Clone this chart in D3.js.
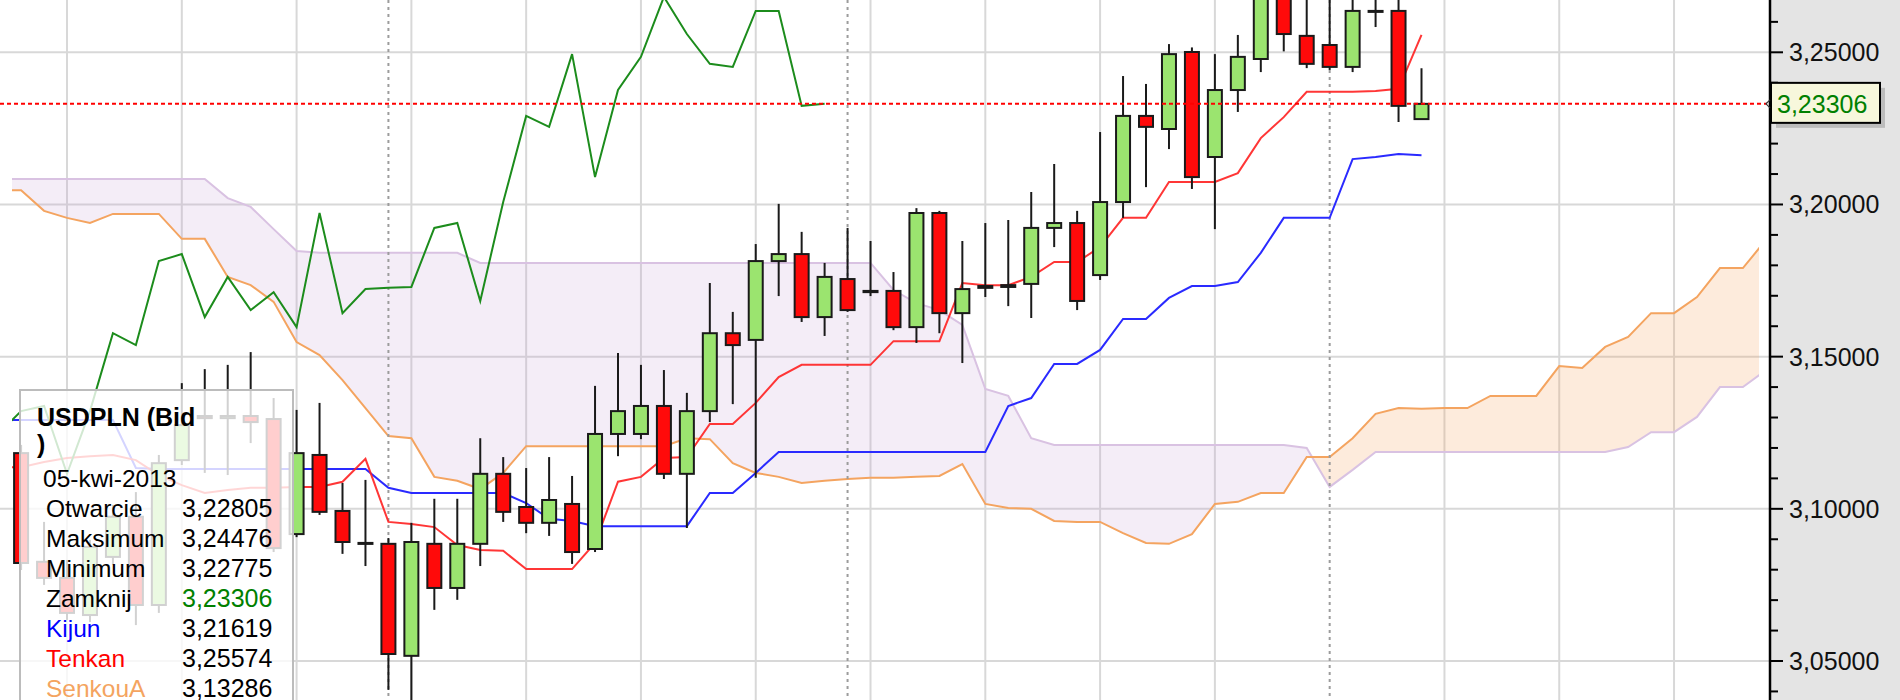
<!DOCTYPE html>
<html><head><meta charset="utf-8">
<script src="https://cdn.jsdelivr.net/npm/d3@7"></script>
<style>
body{margin:0;background:#fff;overflow:hidden;}
svg{display:block;font-family:"Liberation Sans",Arial,sans-serif;}
</style>
</head><body>
<svg id="c" width="1900" height="700"></svg>
<script>
// ---- data (index 0 = first visible candle, index 61 = 05-kwi-2013) ----
const openP = [3.1183,3.0826,3.0773,3.0651,3.0842,3.0974,3.0684,3.1160,3.1305,3.1298,
 3.1305,3.1295,3.0917,3.1177,3.0993,3.0888,3.0885,3.0517,3.0885,3.0740,
 3.0885,3.1115,3.1006,3.0954,3.1016,3.0868,3.1246,3.1246,3.1338,3.1115,
 3.1321,3.1577,3.1555,3.1814,3.1837,3.1630,3.1755,3.1716,3.1716,3.1597,
 3.1972,3.1643,3.1732,3.1735,3.1739,3.1923,3.1939,3.1768,3.2008,3.2291,
 3.2248,3.2501,3.2156,3.2376,3.2478,3.2688,3.2554,3.2524,3.2452,3.2636,
 3.2636,3.22805];
const highP = [3.1210,3.0957,3.0832,3.0898,3.1013,3.1055,3.1177,3.1413,3.1459,3.1473,
 3.1515,3.1364,3.1325,3.1348,3.1085,3.1095,3.0904,3.0954,3.1033,3.1033,
 3.1232,3.1170,3.1134,3.1170,3.1108,3.1404,3.1512,3.1473,3.1456,3.1381,
 3.1742,3.1647,3.1870,3.2002,3.1910,3.1808,3.1923,3.1880,3.1778,3.1988,
 3.1979,3.1880,3.1939,3.1949,3.2041,3.2133,3.1979,3.2238,3.2422,3.2396,
 3.2527,3.2516,3.2494,3.2557,3.2717,3.2733,3.2705,3.2705,3.2688,3.2688,
 3.2682,3.24476];
const lowP = [3.0799,3.0750,3.0635,3.0628,3.0816,3.0618,3.0658,3.1144,3.1118,3.1111,
 3.1216,3.0858,3.0907,3.0980,3.0852,3.0812,3.0405,3.0356,3.0668,3.0701,
 3.0812,3.0957,3.0920,3.0911,3.0819,3.0858,3.1173,3.1229,3.1098,3.0937,
 3.1285,3.1344,3.1102,3.1699,3.1614,3.1568,3.1647,3.1699,3.1587,3.1545,
 3.1577,3.1479,3.1696,3.1666,3.1627,3.1860,3.1653,3.1752,3.1956,3.2057,
 3.2182,3.2051,3.1919,3.2304,3.2435,3.2503,3.2448,3.2442,3.2435,3.2583,
 3.2271,3.22775];
const closeP = [3.0822,3.0773,3.0658,3.0875,3.0974,3.0684,3.1150,3.1275,3.1298,3.1305,
 3.1285,3.0871,3.1183,3.0990,3.0891,3.0885,3.0523,3.0891,3.0740,3.0885,
 3.1115,3.0990,3.0954,3.1029,3.0858,3.1246,3.1321,3.1338,3.1115,3.1321,
 3.1577,3.1538,3.1814,3.1837,3.1630,3.1762,3.1653,3.1712,3.1597,3.1972,
 3.1643,3.1722,3.1726,3.1729,3.1923,3.1939,3.1683,3.2008,3.2291,3.2255,
 3.2494,3.2090,3.2376,3.2485,3.2682,3.2560,3.2462,3.2452,3.2636,3.2636,
 3.2324,3.23306];
// Chikou: indices -1 .. 35
const chikouStart = -1;
const chikou = [3.1246,3.1321,3.1338,3.1115,3.1321,3.1577,3.1538,3.1814,3.1837,3.1630,
 3.1762,3.1653,3.1712,3.1597,3.1972,3.1643,3.1722,3.1726,3.1729,3.1923,
 3.1939,3.1683,3.2008,3.2291,3.2255,3.2494,3.2090,3.2376,3.2485,3.2682,
 3.2560,3.2462,3.2452,3.2636,3.2636,3.2324,3.23306];
// Tenkan / Kijun: indices -1 .. 61
const lineStart = -1;
const tenkan = [3.1137,3.1137,3.1154,3.1167,3.1173,3.1177,3.1160,3.1111,3.1078,3.1052,
 3.1062,3.1069,3.1069,3.1072,3.1072,3.1089,3.1164,3.0957,3.0950,3.0940,
 3.0881,3.0865,3.0862,3.0802,3.0802,3.0802,3.0888,3.1089,3.1105,3.1167,
 3.1170,3.1279,3.1279,3.1348,3.1433,3.1473,3.1473,3.1473,3.1473,3.1551,
 3.1551,3.1551,3.1742,3.1735,3.1735,3.1762,3.1811,3.1811,3.1860,3.1956,
 3.1956,3.2074,3.2074,3.2074,3.2103,3.2218,3.2287,3.2370,3.2370,3.2370,
 3.2373,3.2380,3.25574];
const kijun = [3.1292,3.1292,3.1292,3.1292,3.1292,3.1292,3.1134,3.1131,3.1131,3.1131,
 3.1131,3.1131,3.1131,3.1131,3.1131,3.1131,3.1131,3.1069,3.1052,3.1052,
 3.1052,3.1052,3.1052,3.1019,3.0967,3.0960,3.0943,3.0943,3.0943,3.0943,
 3.0943,3.1052,3.1052,3.1118,3.1187,3.1187,3.1187,3.1187,3.1187,3.1187,
 3.1187,3.1187,3.1187,3.1187,3.1338,3.1364,3.1476,3.1476,3.1522,3.1624,
 3.1624,3.1693,3.1732,3.1732,3.1745,3.1841,3.1956,3.1956,3.1956,3.2149,
 3.2156,3.2166,3.21619];
// Senkou spans: indices -1 .. 76
const cloudStart = -1;
const senkouA = [3.2047,3.2047,3.1979,3.1956,3.1939,3.1969,3.1969,3.1969,3.1887,3.1887,
 3.1762,3.1735,3.1680,3.1548,3.1505,3.1423,3.1331,3.1239,3.1232,3.1105,
 3.1092,3.1065,3.1118,3.1206,3.1206,3.1206,3.1206,3.1206,3.1206,3.1206,
 3.1232,3.1229,3.1150,3.1118,3.1105,3.1085,3.1092,3.1098,3.1102,3.1102,
 3.1105,3.1108,3.1147,3.1016,3.1003,3.1000,3.0960,3.0957,3.0957,3.0920,
 3.0888,3.0885,3.0917,3.1016,3.1023,3.1052,3.1052,3.1170,3.1170,3.1232,
 3.1312,3.1331,3.13286,3.1331,3.1331,3.1371,3.1371,3.1371,3.1469,3.1463,
 3.1532,3.1565,3.1643,3.1643,3.1696,3.1791,3.1791,3.1883];
const senkouB = [3.2084,3.2084,3.2084,3.2084,3.2084,3.2084,3.2084,3.2084,3.2084,3.2084,
 3.2021,3.1992,3.1919,3.1847,3.1841,3.1841,3.1841,3.1841,3.1841,3.1841,
 3.1841,3.1808,3.1808,3.1808,3.1808,3.1808,3.1808,3.1808,3.1808,3.1808,
 3.1808,3.1808,3.1808,3.1808,3.1808,3.1808,3.1808,3.1808,3.1808,3.1719,
 3.1676,3.1653,3.1604,3.1394,3.1371,3.1232,3.1210,3.1210,3.1210,3.1210,
 3.1210,3.1210,3.1210,3.1210,3.1210,3.1210,3.1210,3.1200,3.1072,3.1128,
 3.1187,3.1187,3.1187,3.1187,3.1187,3.1187,3.1187,3.1187,3.1187,3.1187,
 3.1187,3.1203,3.1252,3.1252,3.1302,3.1400,3.1400,3.1456];
const weekStarts = [2,7,12,17,22,27,32,37,42,47,52,62,67,72];
const monthStarts = [16,36,57];
const yGridValues = [3.05,3.10,3.15,3.20,3.25];
const yMinorTicks = [3.04,3.05,3.06,3.07,3.08,3.09,3.10,3.11,3.12,3.13,3.14,3.15,3.16,3.17,3.18,3.19,3.20,3.21,3.22,3.23,3.24,3.25,3.26];
const lastClose = 3.23306;
const tipTitle1 = "USDPLN (Bid", tipTitle2 = ")";
const tipDate = "05-kwi-2013";
const tipLabels = ["Otwarcie","Maksimum","Minimum","Zamknij","Kijun","Tenkan","SenkouA"];
const tipValues = ["3,22805","3,24476","3,22775","3,23306","3,21619","3,25574","3,13286"];
const tipLabelColors = ["#000","#000","#000","#000","#0000ff","#ff0000","#f4a460"];
const tipValueColors = ["#000","#000","#000","#008000","#000","#000","#000"];

// ---- scales ----
const W = 1900, H = 700, axisX = 1770;
const x = d3.scaleLinear().domain([0, 61]).range([21.1, 1421.5]);
const y = d3.scaleLinear().domain([3.05, 3.25]).range([661, 52.3]);
const fmt = v => v.toFixed(5).replace(".", ",");

const svg = d3.select("#c");
const defs = svg.append("defs");
defs.append("clipPath").attr("id","plot").append("rect").attr("x",12).attr("y",0).attr("width",1759-12).attr("height",H);

svg.append("rect").attr("width",W).attr("height",H).attr("fill","#fff");

// grid
const grid = svg.append("g").attr("stroke","#d8d8d8").attr("stroke-width",2);
grid.selectAll("line.h").data(yGridValues).join("line")
  .attr("x1",0).attr("x2",axisX).attr("y1",d=>y(d)).attr("y2",d=>y(d));
grid.selectAll("line.v").data(weekStarts).join("line")
  .attr("x1",d=>x(d)).attr("x2",d=>x(d)).attr("y1",0).attr("y2",H);

// cloud
const cloudPts = senkouA.map((v,k)=>({i:k+cloudStart, a:v, b:senkouB[k]}));
defs.append("clipPath").attr("id","aboveB").append("path")
  .attr("d", d3.area().x(d=>x(d.i)).y0(0).y1(d=>y(d.b))(cloudPts));
defs.append("clipPath").attr("id","belowB").append("path")
  .attr("d", d3.area().x(d=>x(d.i)).y0(H).y1(d=>y(d.b))(cloudPts));
const between = d3.area().x(d=>x(d.i)).y0(d=>y(d.a)).y1(d=>y(d.b));
const cloudG = svg.append("g").attr("clip-path","url(#plot)");
cloudG.append("g").attr("clip-path","url(#aboveB)").append("path")
  .attr("d",between(cloudPts)).attr("fill","#f4a460").attr("fill-opacity",0.22);
cloudG.append("g").attr("clip-path","url(#belowB)").append("path")
  .attr("d",between(cloudPts)).attr("fill","#c6a6d8").attr("fill-opacity",0.2);

const line = d3.line().x(d=>x(d[0])).y(d=>y(d[1]));
const pts = (arr,start)=>arr.map((v,k)=>[k+start,v]);
cloudG.append("path").attr("d",line(pts(senkouB,cloudStart))).attr("fill","none").attr("stroke","#d9c2e2").attr("stroke-width",2);
cloudG.append("path").attr("d",line(pts(senkouA,cloudStart))).attr("fill","none").attr("stroke","#f4a460").attr("stroke-width",2);

// month separators
svg.append("g").selectAll("line").data(monthStarts).join("line")
  .attr("x1",d=>x(d)).attr("x2",d=>x(d)).attr("y1",0).attr("y2",H)
  .attr("stroke","#9c9c9c").attr("stroke-width",2).attr("stroke-dasharray","3,4");

const linesG = svg.append("g").attr("clip-path","url(#plot)");
linesG.append("path").attr("d",line(pts(kijun,lineStart))).attr("fill","none").attr("stroke","#2a2aff").attr("stroke-width",2);
linesG.append("path").attr("d",line(pts(tenkan,lineStart))).attr("fill","none").attr("stroke","#ff2020").attr("stroke-width",2).attr("stroke-opacity",0.9);
linesG.append("path").attr("d",line(pts(chikou,chikouStart))).attr("fill","none").attr("stroke","#1c8c1c").attr("stroke-width",2);

// candles
const candles = openP.map((o,i)=>({i,o,h:highP[i],l:lowP[i],c:closeP[i]}));
const cg = svg.append("g").attr("clip-path","url(#plot)");
cg.selectAll("line").data(candles).join("line")
  .attr("x1",d=>x(d.i)).attr("x2",d=>x(d.i)).attr("y1",d=>y(d.h)).attr("y2",d=>y(d.l))
  .attr("stroke","#1a1a1a").attr("stroke-width",2);
cg.selectAll("rect").data(candles).join("rect")
  .attr("x",d=>x(d.i)-7).attr("width",14)
  .attr("y",d=>y(Math.max(d.o,d.c)))
  .attr("height",d=>Math.max(1,Math.abs(y(d.o)-y(d.c))))
  .attr("fill",d=>d.c>=d.o?"#9be46f":"#ff0a0a")
  .attr("stroke","#1a1a1a").attr("stroke-width",2);

// last close dashed line
svg.append("line").attr("x1",0).attr("x2",axisX-3).attr("y1",y(lastClose)).attr("y2",y(lastClose))
  .attr("stroke","#ff0000").attr("stroke-width",2).attr("stroke-dasharray","4,3");

// tooltip
const tip = svg.append("g");
tip.append("rect").attr("x",20).attr("y",390).attr("width",273).attr("height",340)
  .attr("fill","#fff").attr("fill-opacity",0.8).attr("stroke","#bcbcbc").attr("stroke-width",2);
tip.append("text").attr("x",37).attr("y",426).attr("font-size",25).attr("font-weight","bold").text(tipTitle1);
tip.append("text").attr("x",37).attr("y",453).attr("font-size",25).attr("font-weight","bold").text(tipTitle2);
tip.append("text").attr("x",43).attr("y",487).attr("font-size",24.5).text(tipDate);
tip.selectAll("text.l").data(tipLabels).join("text").attr("class","l")
  .attr("x",46).attr("y",(d,k)=>517+k*30).attr("font-size",24.5).attr("fill",(d,k)=>tipLabelColors[k]).text(d=>d);
tip.selectAll("text.v").data(tipValues).join("text").attr("class","v")
  .attr("x",182).attr("y",(d,k)=>517+k*30).attr("font-size",25).attr("fill",(d,k)=>tipValueColors[k]).text(d=>d);

// right axis
const ax = svg.append("g");
ax.append("rect").attr("x",axisX).attr("y",0).attr("width",W-axisX).attr("height",H).attr("fill","#e4e4e4");
ax.append("line").attr("x1",axisX).attr("x2",axisX).attr("y1",0).attr("y2",H).attr("stroke","#000").attr("stroke-width",2.5);
ax.selectAll("line.t").data(yMinorTicks).join("line")
  .attr("x1",axisX).attr("x2",d=>axisX+(Math.round(d*100)%5===0?13:8))
  .attr("y1",d=>y(d)).attr("y2",d=>y(d)).attr("stroke","#000").attr("stroke-width",2);
ax.selectAll("text").data(yGridValues).join("text")
  .attr("x",1789).attr("y",d=>y(d)).attr("dy","0.36em").attr("font-size",25).attr("fill","#111")
  .text(d=>fmt(d));

// last price tag
const ty = y(lastClose);
const tag = svg.append("g");
tag.append("rect").attr("x",1776).attr("y",ty-16).attr("width",109).attr("height",40).attr("fill","#9a9a9a").attr("fill-opacity",0.55);
tag.append("rect").attr("x",1771).attr("y",ty-21).attr("width",109).attr("height",40)
  .attr("fill","#f7f7dc").attr("stroke","#000").attr("stroke-width",2);
tag.append("path").attr("d",`M${axisX},${ty-4} L${axisX-4},${ty} L${axisX},${ty+4}`).attr("fill","none").attr("stroke","#333").attr("stroke-width",1.2);
tag.append("text").attr("x",1777).attr("y",ty).attr("dy","0.36em").attr("font-size",25).attr("fill","#008000").text(fmt(lastClose));
</script>
</body></html>
